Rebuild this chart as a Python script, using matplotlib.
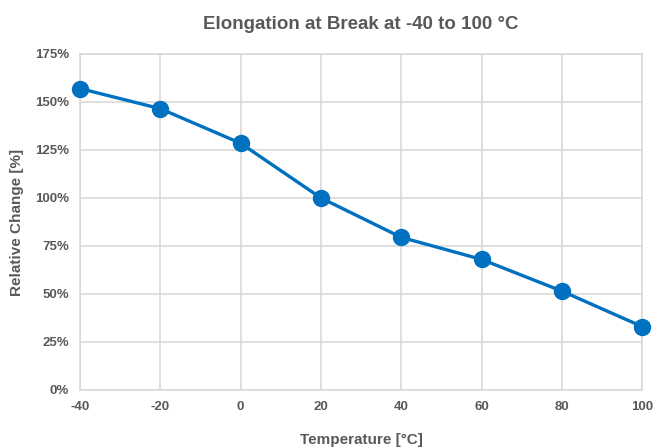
import numpy as np
import matplotlib
matplotlib.use("Agg")
import matplotlib.pyplot as plt
from matplotlib.ticker import FuncFormatter

# ---------------------------
# Data
# ---------------------------
temps = [-40, -20, 0, 20, 40, 60, 80, 100]
rel_change = [157, 146.5, 128.5, 100, 79.5, 68, 51.5, 33]
y_ticks = [0, 25, 50, 75, 100, 125, 150, 175]

TEXT = "#595959"
GRID = "#d9d9d9"
BLUE = "#0070c0"

plt.rcParams["font.family"] = ["Liberation Sans", "DejaVu Sans"]
plt.rcParams["axes.unicode_minus"] = False

fig = plt.figure(figsize=(6.56, 4.48), dpi=100)
ax = fig.add_axes([0.122, 0.1295, 0.857, 0.75])

ax.plot(temps, rel_change, color=BLUE, lw=2.4, marker="o", ms=11.5,
        clip_on=False, zorder=3)

ax.set_xlim(-40, 100)
ax.set_ylim(0, 175)
ax.set_xticks(temps)
ax.set_yticks(y_ticks)
ax.yaxis.set_major_formatter(FuncFormatter(lambda v, p: f"{v:.0f}%"))

ax.grid(True, color=GRID, lw=1.2)
ax.set_axisbelow(True)
for s in ax.spines.values():
    s.set_color(GRID)
    s.set_linewidth(1.2)
ax.tick_params(length=0, pad=8, labelsize=9.5, labelcolor=TEXT)
for lbl in ax.get_xticklabels() + ax.get_yticklabels():
    lbl.set_fontweight("bold")

ax.set_xlabel("Temperature [°C]", fontsize=11, fontweight="bold", color=TEXT, labelpad=14)
ax.set_ylabel("Relative Change [%]", fontsize=11, fontweight="bold", color=TEXT, labelpad=8)
ax.set_title("Elongation at Break at -40 to 100 °C", fontsize=13.5, fontweight="bold",
             color=TEXT, pad=18)

fig.savefig("out.png", dpi=100)
